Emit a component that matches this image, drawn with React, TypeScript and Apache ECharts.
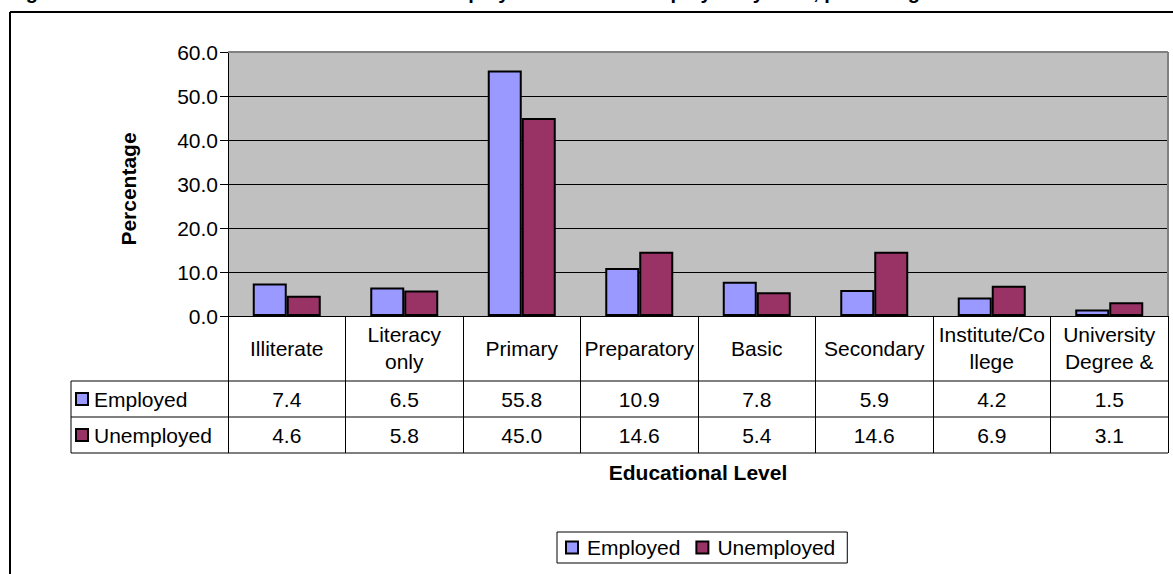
import React, { useEffect, useRef } from "react";
import * as echarts from "echarts";

const categories = [
  "Illiterate",
  "Literacy\nonly",
  "Primary",
  "Preparatory",
  "Basic",
  "Secondary",
  "Institute/Co\nllege",
  "University\nDegree &",
];
const employed = [7.4, 6.5, 55.8, 10.9, 7.8, 5.9, 4.2, 1.5];
const unemployed = [4.6, 5.8, 45.0, 14.6, 5.4, 14.6, 6.9, 3.1];
const seriesNames = ["Employed", "Unemployed"];
const seriesColors = ["#9999FF", "#993366"];
const yMin = 0;
const yMax = 60;
const yStep = 10;
const titleLead = "Figure 3.5:";
const titleMain = "Distribution of Employed and the Unemployed by Area, percentage";
const xTitle = "Educational Level";
const yTitle = "Percentage";

const FONT = "'Liberation Sans', Arial, Helvetica, sans-serif";

export default function App() {
  const ref = useRef<HTMLDivElement>(null);

  useEffect(() => {
    if (!ref.current) return;
    const chart = echarts.init(ref.current, undefined, { renderer: "svg" });

    const gridL = 228, gridT = 52, gridW = 940, gridH = 264;
    const gridR = gridL + gridW, gridB = gridT + gridH;
    const row1 = 381, row2 = 417, row3 = 453;
    const tableL = 71;

    const line = (x1: number, y1: number, x2: number, y2: number, color = "#000", w = 1) => ({
      type: "line",
      silent: true,
      shape: { x1, y1, x2, y2 },
      style: { stroke: color, lineWidth: w },
      z: 10,
    });

    const rowLabel = (i: number, yc: number) => [
      {
        type: "rect",
        shape: { x: 76, y: yc - 6, width: 12, height: 12 },
        style: { fill: seriesColors[i], stroke: "#000", lineWidth: 2 },
        z: 10,
      },
      {
        type: "text",
        x: 94,
        y: yc,
        style: {
          text: seriesNames[i],
          font: `21px ${FONT}`,
          fill: "#000",
          verticalAlign: "middle",
          align: "left",
        },
        z: 10,
      },
    ];

    const valueAxis = (vals: number[], margin: number) => ({
      type: "category",
      gridIndex: 0,
      position: "bottom",
      data: vals.map((v) => v.toFixed(1)),
      axisLine: { show: false },
      axisTick: { show: false },
      splitLine: { show: false },
      axisLabel: {
        interval: 0,
        margin,
        verticalAlign: "middle",
        fontSize: 21,
        fontFamily: FONT,
        color: "#000",
      },
    });

    chart.setOption({
      animation: false,
      backgroundColor: "#fff",
      textStyle: { fontFamily: FONT },
      grid: {
        left: gridL,
        top: gridT,
        width: gridW,
        height: gridH,
        show: true,
        backgroundColor: "#C0C0C0",
        borderWidth: 0,
      },
      legend: {
        left: 557,
        top: 532,
        orient: "horizontal",
        data: seriesNames.map((n) => ({ name: n, icon: "rect" })),
        backgroundColor: "#fff",
        borderColor: "#000",
        borderWidth: 1,
        padding: [5, 12, 5, 8],
        itemWidth: 12,
        itemHeight: 12,
        itemGap: 15,
        textStyle: { fontSize: 21, color: "#000", fontFamily: FONT, padding: [0, 0, 0, 4] },
      },
      xAxis: [
        {
          type: "category",
          data: categories,
          axisLine: { show: true, lineStyle: { color: "#000", width: 1 } },
          axisTick: {
            show: true,
            interval: 0,
            length: row3 - gridB,
            lineStyle: { color: "#000", width: 1 },
          },
          axisLabel: {
            interval: 0,
            margin: 32,
            verticalAlign: "middle",
            fontSize: 21,
            lineHeight: 27,
            fontFamily: FONT,
            color: "#000",
          },
          splitLine: { show: false },
        },
        valueAxis(employed, (row1 + row2) / 2 - gridB),
        valueAxis(unemployed, (row2 + row3) / 2 - gridB),
      ],
      yAxis: {
        type: "value",
        min: yMin,
        max: yMax,
        interval: yStep,
        axisLine: { show: true, lineStyle: { color: "#000", width: 1 } },
        axisTick: { show: true, length: 8, lineStyle: { color: "#000" } },
        axisLabel: {
          formatter: (v: number) => v.toFixed(1),
          fontSize: 21,
          fontFamily: FONT,
          color: "#000",
          margin: 10,
        },
        splitLine: {
          show: true,
          showMinLine: false,
          showMaxLine: false,
          lineStyle: { color: "#000", width: 1 },
        },
      },
      series: [
        {
          name: seriesNames[0],
          type: "bar",
          data: employed,
          barWidth: 34,
          barGap: "0%",
          itemStyle: { color: seriesColors[0], borderColor: "#000", borderWidth: 2 },
        },
        {
          name: seriesNames[1],
          type: "bar",
          data: unemployed,
          barWidth: 34,
          barGap: "0%",
          itemStyle: { color: seriesColors[1], borderColor: "#000", borderWidth: 2 },
        },
      ],
      graphic: [
        // outer frame
        line(10, 12, 1173, 12, "#000", 2),
        line(10, 12, 10, 574, "#000", 2),
        // title, cut off at the top edge as in the reference
        {
          type: "text",
          x: 8,
          y: 2,
          style: { text: titleLead, font: `bold 20px ${FONT}`, fill: "#000", verticalAlign: "bottom" },
        },
        {
          type: "text",
          x: 295,
          y: 2,
          style: { text: titleMain, font: `bold 20px ${FONT}`, fill: "#000", verticalAlign: "bottom" },
        },
        // plot area border (top, right)
        line(gridL, gridT, gridR, gridT, "#808080", 2),
        line(gridR, gridT, gridR, gridB, "#808080", 2),
        // data table lines
        line(tableL, row1, gridR, row1),
        line(tableL, row2, gridR, row2),
        line(tableL, row3, gridR, row3),
        line(tableL, row1, tableL, row3),
        ...rowLabel(0, (row1 + row2) / 2),
        ...rowLabel(1, (row2 + row3) / 2),
        // axis titles
        {
          type: "text",
          x: 698,
          y: 472,
          style: {
            text: xTitle,
            font: `bold 21px ${FONT}`,
            fill: "#000",
            align: "center",
            verticalAlign: "middle",
          },
        },
        {
          type: "text",
          x: 128,
          y: 189,
          rotation: Math.PI / 2,
          style: {
            text: yTitle,
            font: `bold 21px ${FONT}`,
            fill: "#000",
            align: "center",
            verticalAlign: "middle",
          },
        },
      ],
    });

    return () => chart.dispose();
  }, []);

  return (
    <div
      ref={ref}
      style={{ position: "fixed", left: 0, top: 0, width: 1173, height: 574, background: "#fff" }}
    />
  );
}
